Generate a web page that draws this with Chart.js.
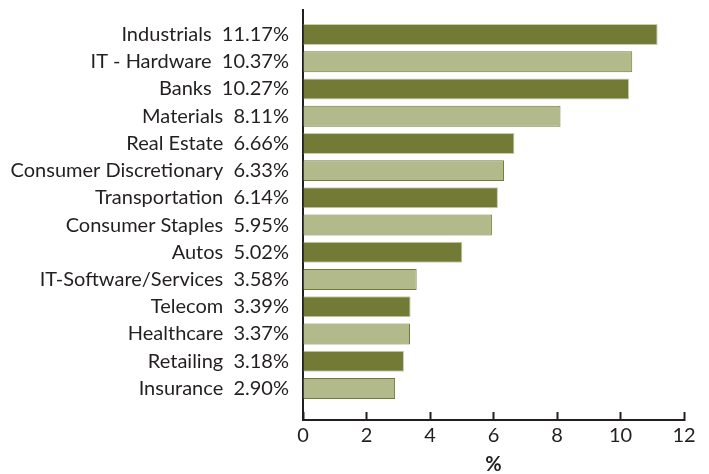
<!DOCTYPE html>
<html>
<head>
<meta charset="utf-8">
<script src="https://cdn.jsdelivr.net/npm/chart.js@4"></script>
<style>
  body { margin: 0; background: #fff; }
</style>
</head>
<body>
<canvas id="sectorChart" width="709" height="474"></canvas>
<script>
// sector weights, top to bottom
const sectors = ['Industrials', 'IT - Hardware', 'Banks', 'Materials', 'Real Estate',
  'Consumer Discretionary', 'Transportation', 'Consumer Staples', 'Autos',
  'IT-Software/Services', 'Telecom', 'Healthcare', 'Retailing', 'Insurance'];
const weights = [11.17, 10.37, 10.27, 8.11, 6.66, 6.33, 6.14, 5.95, 5.02, 3.58, 3.39, 3.37, 3.18, 2.90];
const xTicks = [0, 2, 4, 6, 8, 10, 12];

const dark = '#737a36';
const light = '#b2b98b';
const ink = '#231f20';

// label text is "name  value%"
const labels = sectors.map((s, i) => s + '  ' + weights[i].toFixed(2) + '%');

// leave a bit of room above the first bar and below the last one
const bandPlugin = {
  id: 'band',
  afterLayout(chart) {
    const y = chart.scales.y;
    y._startValue = -0.9;
    y._valueRange = 15.06;
  }
};

const ctx = document.getElementById('sectorChart').getContext('2d');
new Chart(ctx, {
  type: 'bar',
  data: {
    labels: labels,
    datasets: [
      {
        data: weights,
        backgroundColor: weights.map((v, i) => (i % 2 ? light : dark)),
        borderColor: weights.map((v, i) => (i % 2 ? dark : '#c9cdab')),
        borderWidth: 1,
        categoryPercentage: 1,
        barPercentage: 0.77,
      },
    ],
  },
  options: {
    indexAxis: 'y',
    responsive: false,
    animation: false,
    layout: { padding: { top: 10, right: 25, bottom: 0, left: 0 } },
    plugins: {
      legend: { display: false },
      tooltip: { enabled: false },
    },
    scales: {
      x: {
        min: 0,
        max: 12,
        afterBuildTicks: (scale) => {
          scale.ticks = xTicks.map((v) => ({ value: v }));
        },
        afterFit: (scale) => {
          scale.height = 54;
        },
        grid: {
          display: true,
          drawOnChartArea: false,
          color: ink,
          tickLength: -8,
          tickWidth: 2,
        },
        border: { display: true, color: ink, width: 2 },
        ticks: {
          color: ink,
          padding: 12,
          font: { family: 'Lato', size: 20 },
        },
        title: {
          display: true,
          text: '%',
          color: ink,
          padding: { top: 0, bottom: -3 },
          font: { family: 'Lato', size: 20, weight: 'bold' },
        },
      },
      y: {
        afterFit: (scale) => {
          scale.width = 303;
          scale.paddingTop = 0;
          scale.paddingBottom = 0;
        },
        grid: { display: false, drawTicks: false },
        border: { display: true, color: ink, width: 2 },
        ticks: {
          color: ink,
          padding: 14,
          autoSkip: false,
          font: { family: 'Lato', size: 20 },
        },
      },
    },
  },
  plugins: [bandPlugin],
});
</script>
</body>
</html>
